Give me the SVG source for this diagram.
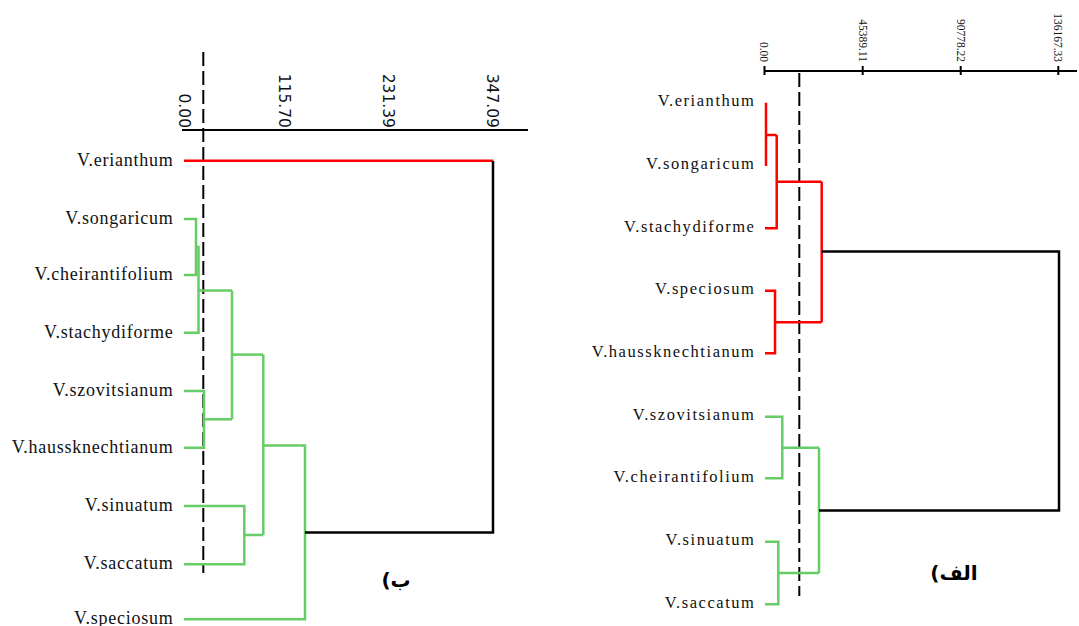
<svg xmlns="http://www.w3.org/2000/svg" width="1079" height="626" viewBox="0 0 1079 626">
  <style>
    .bg { fill: #ffffff; }
    .leafL { font-family: "Liberation Serif", "Times New Roman", serif; font-size: 18px; letter-spacing: 0.75px; fill: #111; text-anchor: end; }
    .leafR { font-family: "Liberation Serif", "Times New Roman", serif; font-size: 16.5px; letter-spacing: 1.55px; fill: #111; text-anchor: end; }
    .tickL { font-family: "DejaVu Sans", Verdana, sans-serif; font-size: 15.5px; fill: #111; text-anchor: end; }
    .tickR { font-family: "Liberation Serif", "Times New Roman", serif; font-size: 11.5px; fill: #111; text-anchor: end; }
    .tag { font-family: "DejaVu Sans", "Noto Sans", sans-serif; font-size: 20px; font-weight: bold; fill: #000; text-anchor: middle; }
    .axis { stroke: #000; stroke-width: 2; fill: none; }
    .cut { stroke: #000; stroke-width: 2; stroke-dasharray: 14 5; fill: none; }
    .red { stroke: #ff0000; stroke-width: 2.5; fill: none; stroke-linejoin: miter; }
    .green { stroke: #66cc66; stroke-width: 2.5; fill: none; stroke-linejoin: miter; }
    .black { stroke: #000; stroke-width: 2.5; fill: none; stroke-linejoin: miter; }
  </style>

  <rect class="bg" x="0" y="0" width="1079" height="626"/>

  <!-- Panel B (left): distance axis -->
  <g id="axis-b">
    <line class="axis" x1="182" y1="130" x2="528" y2="130"/>
    <text class="tickL" transform="translate(178.5,128) rotate(90)">0.00</text>
    <text class="tickL" transform="translate(278.5,128) rotate(90)">115.70</text>
    <text class="tickL" transform="translate(382.5,128) rotate(90)">231.39</text>
    <text class="tickL" transform="translate(486.5,128) rotate(90)">347.09</text>
  </g>

  <!-- Panel A (right): distance axis -->
  <g id="axis-a">
    <line class="axis" x1="764" y1="71" x2="1077" y2="71"/>
    <line class="axis" x1="764.5" y1="66" x2="764.5" y2="75"/>
    <line class="axis" x1="862.7" y1="66" x2="862.7" y2="75"/>
    <line class="axis" x1="960.7" y1="66" x2="960.7" y2="75"/>
    <line class="axis" x1="1058.3" y1="66" x2="1058.3" y2="75"/>
    <text class="tickR" transform="translate(760,62) rotate(90)">0.00</text>
    <text class="tickR" transform="translate(858.5,62) rotate(90)">45389.11</text>
    <text class="tickR" transform="translate(956.5,62) rotate(90)">90778.22</text>
    <text class="tickR" transform="translate(1054,62) rotate(90)">136167.33</text>
  </g>

  <!-- Connectors: dendrogram branches and cut lines -->
  <g id="connectors">
    <!-- panel B cut line -->
    <line class="cut" x1="203.3" y1="52" x2="203.3" y2="573"/>
    <!-- panel B: V.erianthum branch -->
    <polyline class="red" points="184,160.7 493,160.7"/>
    <!-- panel B: green cluster -->
    <polyline class="green" points="184,219 196,219 196,275 184,275"/>
    <polyline class="green" points="196,247 198.5,247 198.5,332.7 184,332.7"/>
    <polyline class="green" points="198.5,290.5 232,290.5"/>
    <polyline class="green" points="184,391 204,391 204,447.7 184,447.7"/>
    <polyline class="green" points="204,419.3 232,419.3"/>
    <polyline class="green" points="232,290.5 232,419.3"/>
    <polyline class="green" points="232,354.6 263.3,354.6"/>
    <polyline class="green" points="184,506 244.3,506 244.3,564.3 184,564.3"/>
    <polyline class="green" points="244.3,535 263.3,535"/>
    <polyline class="green" points="263.3,354.6 263.3,535"/>
    <polyline class="green" points="263.3,445.5 305,445.5 305,619.3 184,619.3"/>
    <!-- panel B: root -->
    <polyline class="black" points="305,532.4 493,532.4 493,160.7"/>

    <!-- panel A cut line -->
    <line class="cut" x1="799.3" y1="73" x2="799.3" y2="596"/>
    <!-- panel A: red cluster -->
    <polyline class="red" points="766,102.7 766,166"/>
    <polyline class="red" points="766,135 776.7,135"/>
    <polyline class="red" points="765,228.3 776.7,228.3 776.7,135"/>
    <polyline class="red" points="776.7,181.7 821.7,181.7"/>
    <polyline class="red" points="765,290.7 775,290.7 775,353.3 765,353.3"/>
    <polyline class="red" points="775,322.3 821.7,322.3"/>
    <polyline class="red" points="821.7,181.7 821.7,322.3"/>
    <!-- panel A: green cluster -->
    <polyline class="green" points="765,416.7 782.3,416.7 782.3,478.3 765,478.3"/>
    <polyline class="green" points="782.3,447.7 819,447.7"/>
    <polyline class="green" points="765,541.7 778.3,541.7 778.3,604.3 765,604.3"/>
    <polyline class="green" points="778.3,573 819,573"/>
    <polyline class="green" points="819,447.7 819,573"/>
    <!-- panel A: root -->
    <polyline class="black" points="821.7,251.5 1059,251.5 1059,510.5 819,510.5"/>
  </g>

  <!-- Panel B leaves -->
  <g id="b-erianthum"><text class="leafL" x="173.5" y="165.5">V.erianthum</text></g>
  <g id="b-songaricum"><text class="leafL" x="173.5" y="223.8">V.songaricum</text></g>
  <g id="b-cheirantifolium"><text class="leafL" x="173.5" y="279.8">V.cheirantifolium</text></g>
  <g id="b-stachydiforme"><text class="leafL" x="173.5" y="337.5">V.stachydiforme</text></g>
  <g id="b-szovitsianum"><text class="leafL" x="173.5" y="395.8">V.szovitsianum</text></g>
  <g id="b-haussknechtianum"><text class="leafL" x="173.5" y="452.5">V.haussknechtianum</text></g>
  <g id="b-sinuatum"><text class="leafL" x="173.5" y="510.8">V.sinuatum</text></g>
  <g id="b-saccatum"><text class="leafL" x="173.5" y="569.1">V.saccatum</text></g>
  <g id="b-speciosum"><text class="leafL" x="173.5" y="624.1">V.speciosum</text></g>

  <!-- Panel A leaves -->
  <g id="a-erianthum"><text class="leafR" x="755.5" y="106">V.erianthum</text></g>
  <g id="a-songaricum"><text class="leafR" x="755.5" y="169.3">V.songaricum</text></g>
  <g id="a-stachydiforme"><text class="leafR" x="755.5" y="231.6">V.stachydiforme</text></g>
  <g id="a-speciosum"><text class="leafR" x="755.5" y="294">V.speciosum</text></g>
  <g id="a-haussknechtianum"><text class="leafR" x="755.5" y="356.6">V.haussknechtianum</text></g>
  <g id="a-szovitsianum"><text class="leafR" x="755.5" y="420">V.szovitsianum</text></g>
  <g id="a-cheirantifolium"><text class="leafR" x="755.5" y="481.6">V.cheirantifolium</text></g>
  <g id="a-sinuatum"><text class="leafR" x="755.5" y="545">V.sinuatum</text></g>
  <g id="a-saccatum"><text class="leafR" x="755.5" y="607.6">V.saccatum</text></g>

  <!-- Panel captions -->
  <g id="caption-b"><text class="tag" x="396" y="587" direction="rtl" unicode-bidi="embed">ب)</text></g>
  <g id="caption-a"><text class="tag" x="954" y="580" direction="rtl" unicode-bidi="embed">الف)</text></g>
</svg>
